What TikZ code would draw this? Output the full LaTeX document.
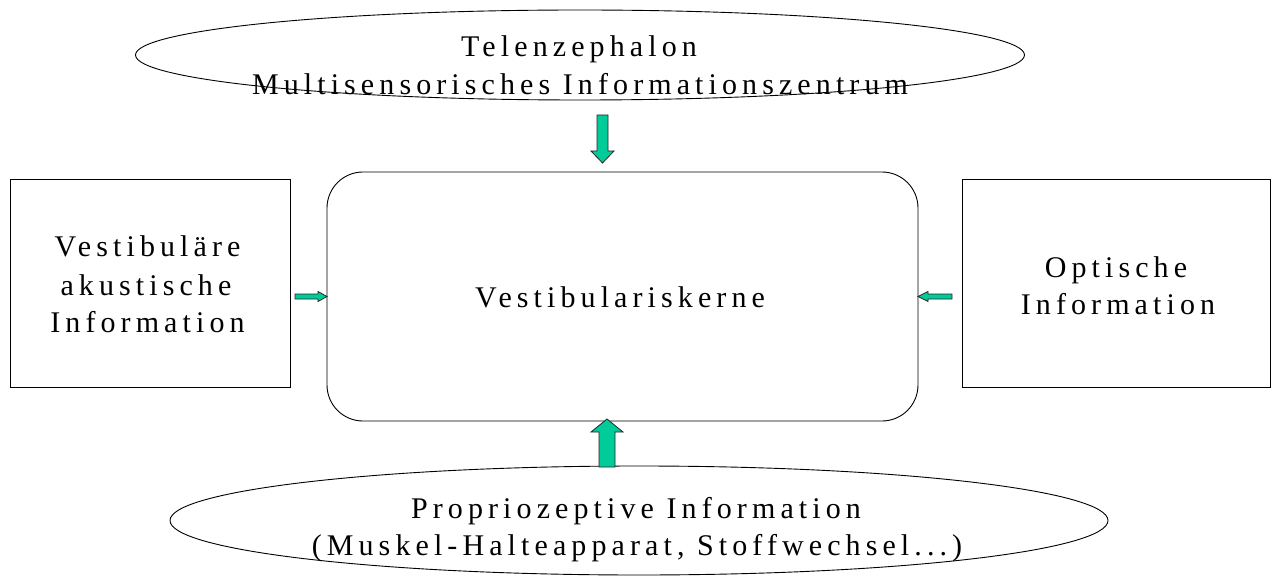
\documentclass[tikz,border=0pt]{standalone}
\usepackage{fontspec}
\setmainfont{Liberation Serif}[LetterSpace=17]
\usetikzlibrary{shapes.geometric}
\definecolor{arrowgreen}{RGB}{0,204,153}
\tikzset{
  lbl/.style={font=\fontsize{30}{37}\selectfont, anchor=base, inner sep=0pt},
  frame/.style={draw=black, line width=0.9pt},
  blockarrow/.style={fill=arrowgreen, draw=black!85, line width=0.8pt, line join=miter}
}
\begin{document}
\begin{tikzpicture}[x=1pt,y=-1pt]
\useasboundingbox (0,0) rectangle (1279,585);
% sources and target
\node[frame, ellipse, minimum width=889, minimum height=90] (tel) at (580,55) {};
\node[lbl] (tel1) at (579,57) {Telenzephalon};
\node[lbl] (tel2) at (580,95) {Multisensorisches Informationszentrum};
\node[frame, rounded corners=36, minimum width=591, minimum height=249] (kern) at (622.5,296.5) {};
\node[lbl] (kern1) at (620,307) {Vestibulariskerne};
\node[frame, minimum width=280, minimum height=208] (vest) at (150,283) {};
\node[lbl] (vest1) at (147.5,257) {Vestibuläre};
\node[lbl] (vest2) at (146,295) {akustische};
\node[lbl] (vest3) at (147.5,332) {Information};
\node[frame, minimum width=308, minimum height=208] (opt) at (1116,283) {};
\node[lbl] (opt1) at (1116,277) {Optische};
\node[lbl] (opt2) at (1118,314) {Information};
\node[frame, ellipse, minimum width=938, minimum height=109] (prop) at (639,520.5) {};
\node[lbl] (prop1) at (636,518) {Propriozeptive Information};
\node[lbl] (prop2) at (637,555) {(Muskel-Halteapparat, Stoffwechsel...)};
% block arrows into the nuclei
\draw[blockarrow] (597,115) -- (608,115) -- (608,151) -- (614,151) -- (602.5,163)
  -- (591,151) -- (597,151) -- cycle;
\draw[blockarrow] (599,467) -- (615,467) -- (615,432) -- (623,432) -- (607,419)
  -- (591,432) -- (599,432) -- cycle;
\draw[blockarrow] (295,294) -- (318,294) -- (318,291.5) -- (327,296.5) -- (318,301.5)
  -- (318,299) -- (295,299) -- cycle;
\draw[blockarrow] (952,294) -- (928,294) -- (928,291.5) -- (918,296.5) -- (928,301.5)
  -- (928,299) -- (952,299) -- cycle;
\end{tikzpicture}
\end{document}
